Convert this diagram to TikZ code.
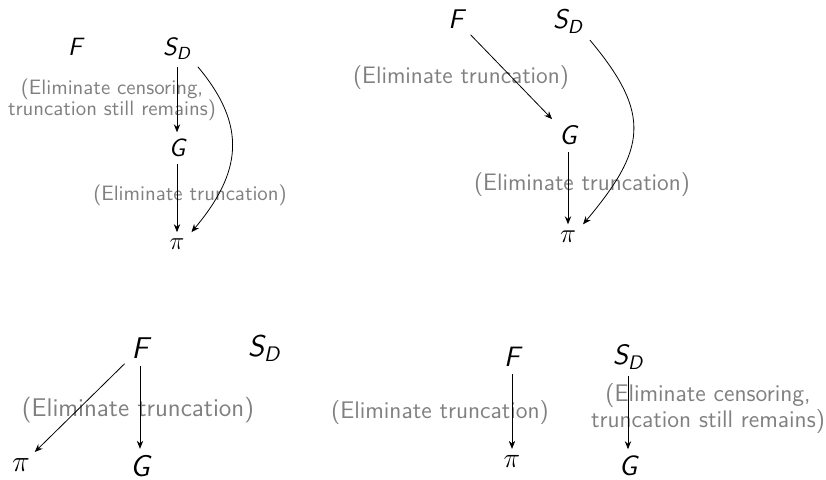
\RequirePackage{fix-cm}
\documentclass[tikz,border=0pt]{standalone}
\usepackage{amsmath}
\usepackage{fontspec}
\usetikzlibrary{arrows.meta}
\tikzset{
  var/.style={font=\fontsize{#1}{#1}\selectfont\sffamily\itshape, anchor=base},
  note/.style={font=\fontsize{#1}{#1}\selectfont\sffamily, text=black!50, align=center},
  arr/.style={-{Stealth[length=4pt, width=3.2pt]}},
}
\newcommand{\SD}{$\text{S}_\text{D}$}

\begin{document}
\begin{tikzpicture}[x=0.5pt, y=-0.5pt]
  \useasboundingbox (0,0) rectangle (826,480);

  % top left
  \node[var=12.5] (F1) at (75,56) {F};
  \node[var=12.5] (S1) at (177,56) {\SD};
  \node[var=12.5] (G1) at (177,157) {G};
  \node[var=12.5] (p1) at (177,250) {$\pi$};
  \node[note=10.4] (c1) at (112,100) {(Eliminate censoring,\\truncation still remains)};
  \node[note=10.4] (t1) at (190,195) {(Eliminate truncation)};
  \draw[arr] (S1) -- (G1);
  \draw[arr] (G1) -- (p1);
  \draw[arr] (S1.south east) to[out=-50, in=50, looseness=1.2] (p1.north east);

  % top right
  \node[var=13.5] (F2) at (456,29) {F};
  \node[var=13.5] (S2) at (568,29) {\SD};
  \node[var=13.5] (G2) at (568,145) {G};
  \node[var=13.5] (p2) at (568,243) {$\pi$};
  \node[note=11.9] (t2a) at (461,78) {(Eliminate truncation)};
  \node[note=11.9] (t2b) at (582,185) {(Eliminate truncation)};
  \draw[arr] (F2) -- (G2);
  \draw[arr] (G2) -- (p2);
  \draw[arr] (S2.south east) to[out=-50, in=50, looseness=1.35] (p2.north east);

  % bottom left
  \node[var=15] (F3) at (140,359) {F};
  \node[var=15] (S3) at (264,357) {\SD};
  \node[var=15] (p3) at (21,472) {$\pi$};
  \node[var=15] (G3) at (140,477) {G};
  \node[note=12.8] (t3) at (138,410) {(Eliminate truncation)};
  \draw[arr] (F3) -- (p3);
  \draw[arr] (F3) -- (G3);

  % bottom right
  \node[var=14] (F4) at (512,367) {F};
  \node[var=14] (S4) at (628,365) {\SD};
  \node[var=14] (p4) at (512,468) {$\pi$};
  \node[var=14] (G4) at (628,476) {G};
  \node[note=12] (t4a) at (440,413) {(Eliminate truncation)};
  \node[note=12] (t4b) at (708,409) {(Eliminate censoring,\\truncation still remains)};
  \draw[arr] (F4) -- (p4);
  \draw[arr] (S4) -- (G4);
\end{tikzpicture}
\end{document}
